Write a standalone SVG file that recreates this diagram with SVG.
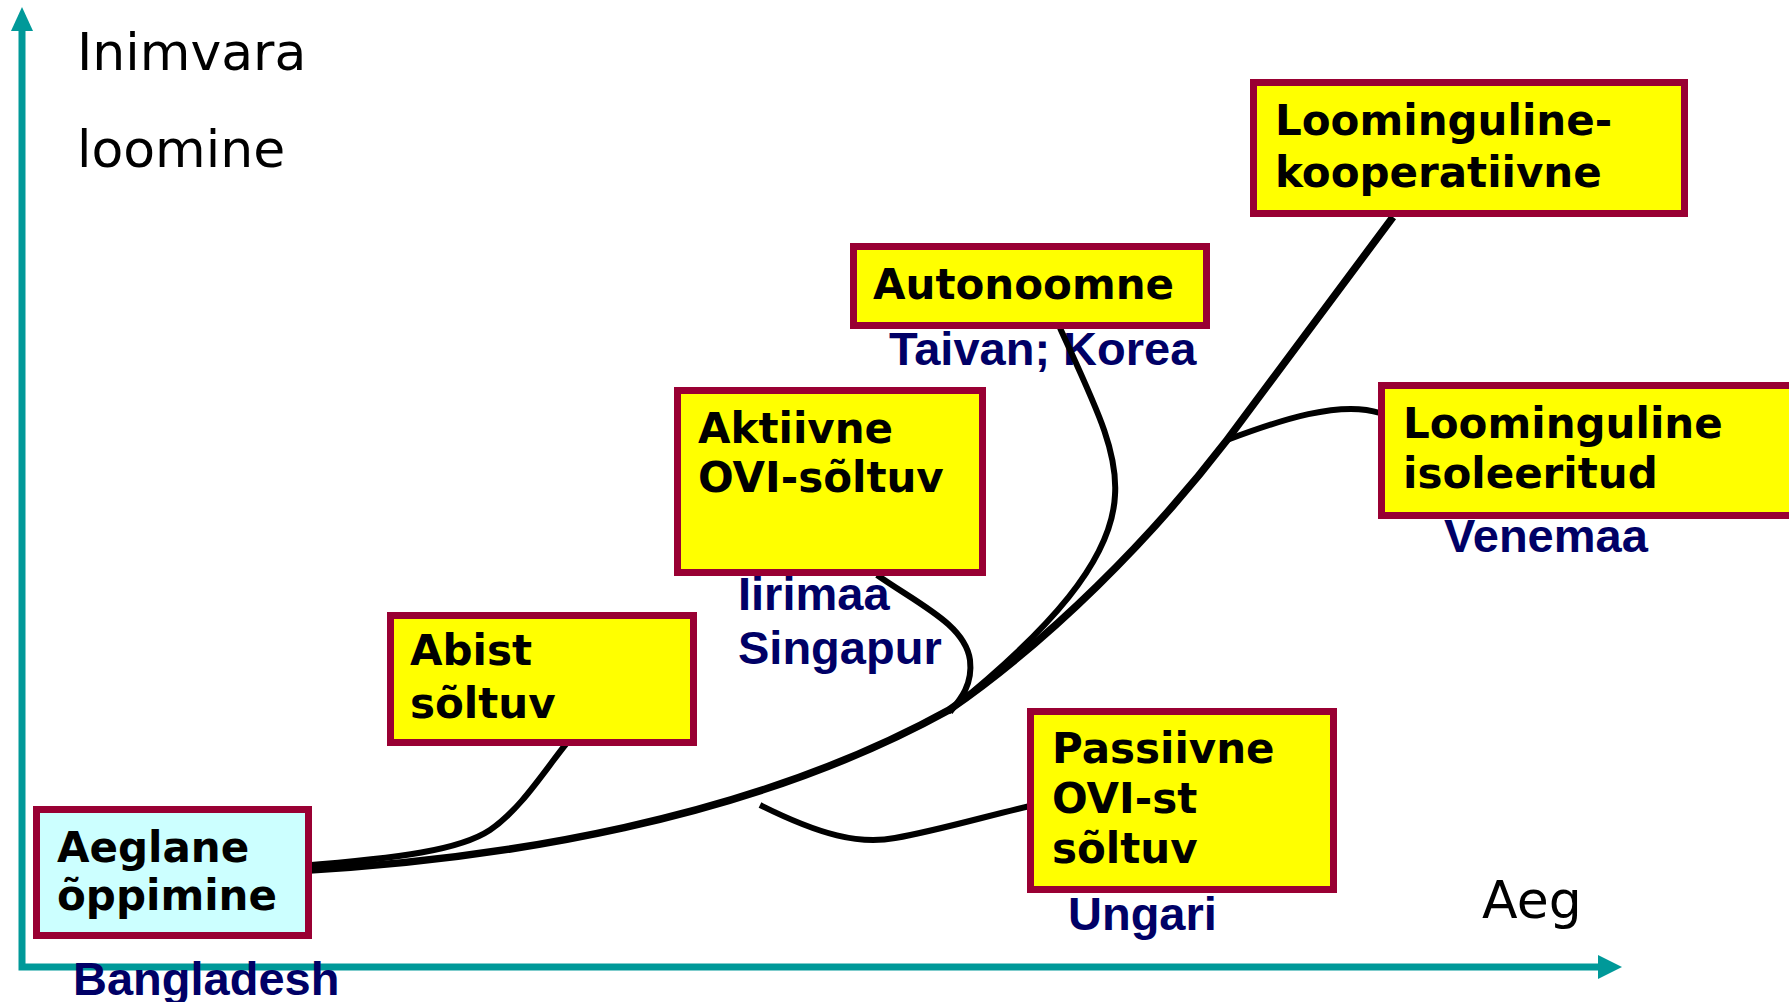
<svg xmlns="http://www.w3.org/2000/svg" width="1789" height="1002" viewBox="0 0 1789 1002">
<style>
.axis{stroke:#009999;stroke-width:7;fill:none}
.axhead{fill:#009999}
.ax{font-family:"DejaVu Sans",Verdana,sans-serif;font-size:52px;fill:#000}
.box{fill:#FFFF00;stroke:#990033;stroke-width:7}
.box0{fill:#CCFFFF;stroke:#990033;stroke-width:7}
.bt{font-family:"DejaVu Sans",Verdana,sans-serif;font-weight:bold;font-size:42px;fill:#000}
.ct{font-family:"Liberation Sans",Arial,sans-serif;font-weight:bold;font-size:47px;fill:#000066}
.main{stroke:#000;stroke-width:7.5;fill:none;stroke-linecap:butt}
.br{stroke:#000;stroke-width:6;fill:none}
</style>
<rect width="1789" height="1002" fill="#fff"/>
<g id="axes">
<path class="axis" d="M22,30 L22,967 L1600,967"/>
<polygon class="axhead" points="22,7 11,31 33,31"/>
<polygon class="axhead" points="1622,967 1598,955 1598,979"/>
<text class="ax" x="77" y="70">Inimvara</text>
<text class="ax" x="77" y="167">loomine</text>
<text class="ax" x="1482" y="918">Aeg</text>
</g>
<g id="labels">
<text class="ct" x="73" y="995">Bangladesh</text>
<text class="ct" x="889" y="365">Taivan; Korea</text>
<text class="ct" x="738" y="610">Iirimaa</text>
<text class="ct" x="738" y="664">Singapur</text>
<text class="ct" x="1444" y="552">Venemaa</text>
<text class="ct" x="1068" y="930">Ungari</text>
</g>
<g id="connectors">
<path class="main" d="M295,871 C500,860 750,820 949,710 C1050,640 1150,540 1227,440 L1393,217"/>
<path class="br" d="M300,866 C400,858 460,850 490,830 C520,810 545,770 566,744"/>
<path class="br" d="M1060,328 C1095,405 1118,450 1115,495 C1112,560 1050,630 948,712"/>
<path class="br" d="M877,575 C920,605 965,625 970,660 C973,685 960,700 950,712"/>
<path class="br" d="M1227,440 C1280,420 1340,400 1380,413"/>
<path class="br" d="M760,805 C820,835 860,845 895,838 C940,830 990,815 1030,806"/>
</g>
<g id="n-aeglane">
<rect class="box0" x="36.5" y="809.5" width="272" height="126"/>
<text class="bt" x="57" y="862">Aeglane</text>
<text class="bt" x="57" y="910">õppimine</text>
</g>
<g id="n-abist">
<rect class="box" x="390.5" y="615.5" width="303" height="127"/>
<text class="bt" x="410" y="665">Abist</text>
<text class="bt" x="410" y="718">sõltuv</text>
</g>
<g id="n-aktiivne">
<rect class="box" x="677.5" y="390.5" width="305" height="182"/>
<text class="bt" x="698" y="443">Aktiivne</text>
<text class="bt" x="698" y="492">OVI-sõltuv</text>
</g>
<g id="n-autonoomne">
<rect class="box" x="853.5" y="246.5" width="353" height="79"/>
<text class="bt" x="873" y="299">Autonoomne</text>
</g>
<g id="n-kooperatiivne">
<rect class="box" x="1253.5" y="82.5" width="431" height="131"/>
<text class="bt" x="1275" y="135">Loominguline-</text>
<text class="bt" x="1275" y="187">kooperatiivne</text>
</g>
<g id="n-isoleeritud">
<rect class="box" x="1381.5" y="385.5" width="420" height="130"/>
<text class="bt" x="1403" y="438">Loominguline</text>
<text class="bt" x="1403" y="488">isoleeritud</text>
</g>
<g id="n-passiivne">
<rect class="box" x="1030.5" y="711.5" width="303" height="178"/>
<text class="bt" x="1052" y="763">Passiivne</text>
<text class="bt" x="1052" y="813">OVI-st</text>
<text class="bt" x="1052" y="863">sõltuv</text>
</g>
</svg>
